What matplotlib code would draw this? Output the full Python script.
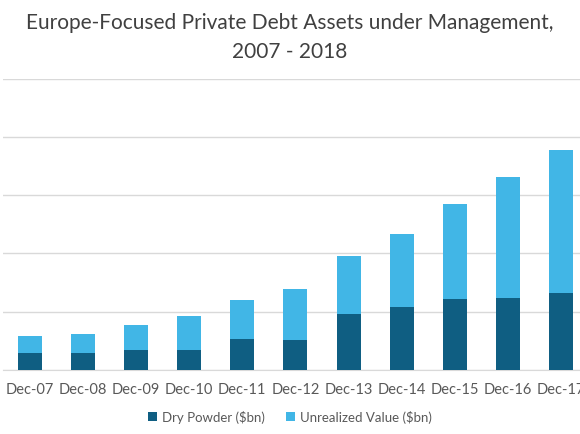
import matplotlib.pyplot as plt
import numpy as np

labels = ["Dec-07", "Dec-08", "Dec-09", "Dec-10", "Dec-11", "Dec-12",
          "Dec-13", "Dec-14", "Dec-15", "Dec-16", "Dec-17"]
dry_powder = [14.1, 14.4, 17.0, 17.0, 26.5, 25.9, 48.3, 53.8, 60.9, 61.6, 65.9]
unrealized = [14.7, 16.4, 21.5, 29.6, 33.3, 43.4, 49.7, 63.2, 81.3, 104.3, 122.9]

plt.rcParams['font.family'] = ['Lato', 'DejaVu Sans']

fig = plt.figure(figsize=(5.8, 4.35), dpi=100)
# axes runs past the right edge on purpose (the original chart is cropped)
ax = fig.add_axes([3 / 580, 0.1478, 12 * 53.16 / 580, 0.668])

x = np.arange(len(labels))
ax.bar(x, dry_powder, width=0.45, color="#0f5e82", label="Dry Powder ($bn)", zorder=3)
ax.bar(x, unrealized, width=0.45, bottom=dry_powder, color="#41b6e6",
       label="Unrealized Value ($bn)", zorder=3)

ax.set_xlim(-0.5, 11.5)
ax.set_ylim(0, 250)
ax.set_yticks([0, 50, 100, 150, 200, 250])
ax.set_yticklabels([])
ax.tick_params(axis="y", length=0)
ax.grid(axis="y", color="#d9d9d9", linewidth=1, zorder=0)
ax.set_xticks(x)
ax.set_xticklabels(labels, fontsize=10.5, color="#595959")
ax.tick_params(axis="x", length=0, pad=9)
for s in ["top", "right", "left"]:
    ax.spines[s].set_visible(False)
ax.spines["bottom"].set_color("#d9d9d9")

fig.text(0.5, 1 - 29.3 / 435, "Europe-Focused Private Debt Assets under Management,",
         ha="center", va="baseline", fontsize=15, color="#404040")
fig.text(0.5, 1 - 58 / 435, "2007 - 2018",
         ha="center", va="baseline", fontsize=15, color="#404040")

fig.legend(loc="center", bbox_to_anchor=(0.5, 0.04), ncol=2, frameon=False,
           fontsize=9.5, handlelength=0.7, handleheight=0.7, columnspacing=1.6,
           handletextpad=0.35, labelcolor="#595959")

fig.savefig("out.png", dpi=100)
